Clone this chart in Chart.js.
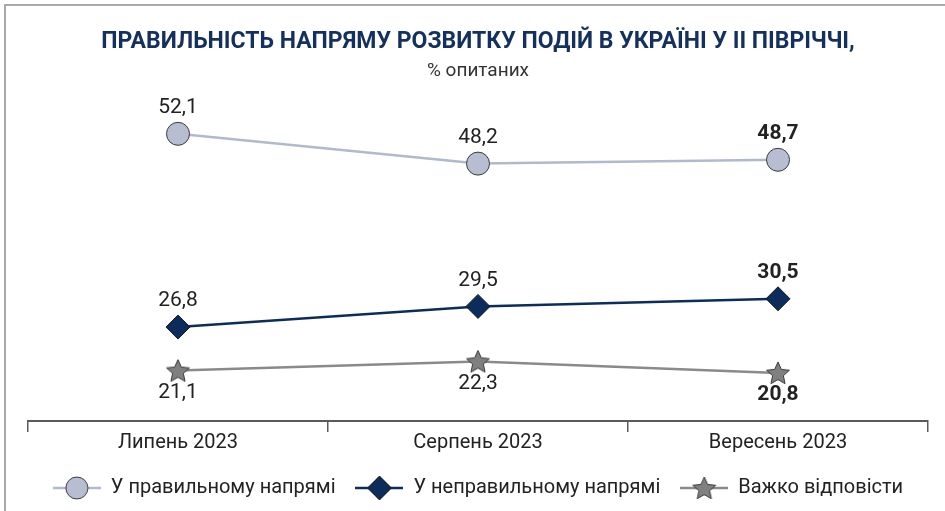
<!DOCTYPE html>
<html>
<head>
<meta charset="utf-8">
<script src="https://cdn.jsdelivr.net/npm/chart.js@4.4.1/dist/chart.umd.min.js"></script>
<style>
  html, body { margin: 0; padding: 0; background: #fff; }
  #wrap { position: relative; width: 945px; height: 511px; overflow: hidden; }
  #frame { position: absolute; left: 4px; top: 4px; right: -4px; bottom: -4px;
           border-top: 2px solid #a9a9a9; border-left: 2px solid #a9a9a9; }
  canvas { position: absolute; left: 0; top: 0; }
</style>
</head>
<body>
<div id="wrap">
  <div id="frame"></div>
  <canvas id="chart" width="945" height="511"></canvas>
</div>
<script>
const months = ["Липень 2023", "Серпень 2023", "Вересень 2023"];
const seriesNames = ["У правильному напрямі", "У неправильному напрямі", "Важко відповісти"];
const rightDirection = [52.1, 48.2, 48.7];
const wrongDirection = [26.8, 29.5, 30.5];
const hardToSay = [21.1, 22.3, 20.8];

const FONT = '"Liberation Sans Narrow", "Roboto", sans-serif';

// filled 5-point star used as a point style
function makeStar(r, fill, stroke) {
    const c = document.createElement("canvas");
    const s = Math.ceil(r * 2 + 4);
    c.width = s; c.height = s;
    const g = c.getContext("2d");
    g.translate(s / 2, s / 2 + 1);
    g.beginPath();
    for (let i = 0; i < 10; i++) {
        const rr = i % 2 === 0 ? r : r * 0.47;
        const a = -Math.PI / 2 + i * Math.PI / 5;
        g.lineTo(Math.cos(a) * rr, Math.sin(a) * rr);
    }
    g.closePath();
    g.fillStyle = fill;
    g.fill();
    g.lineWidth = 1;
    g.strokeStyle = stroke;
    g.stroke();
    return c;
}

// legend icon: short line with the marker in the middle
function makeLegendIcon(lineColor, lineWidth, drawMarker) {
    const c = document.createElement("canvas");
    c.width = 48; c.height = 26;
    const g = c.getContext("2d");
    g.strokeStyle = lineColor;
    g.lineWidth = lineWidth;
    g.beginPath();
    g.moveTo(0, 13);
    g.lineTo(48, 13);
    g.stroke();
    drawMarker(g, 24, 13);
    return c;
}

const starImg = makeStar(12, "#808080", "#3a3a3a");

const legendIcons = [
    makeLegendIcon("#b3b9cc", 2.5, function (g, x, y) {
        g.beginPath();
        g.arc(x, y, 11, 0, Math.PI * 2);
        g.fillStyle = "#b8bed1";
        g.fill();
        g.lineWidth = 1;
        g.strokeStyle = "#3a3a3a";
        g.stroke();
    }),
    makeLegendIcon("#0c2c5c", 2.5, function (g, x, y) {
        g.beginPath();
        g.moveTo(x, y - 12); g.lineTo(x + 12, y); g.lineTo(x, y + 12); g.lineTo(x - 12, y);
        g.closePath();
        g.fillStyle = "#0c2c5c";
        g.fill();
        g.lineWidth = 1;
        g.strokeStyle = "#1a1a1a";
        g.stroke();
    }),
    makeLegendIcon("#8a8a8a", 2.5, function (g, x, y) {
        g.drawImage(starImg, x - starImg.width / 2, y - starImg.height / 2);
    })
];

// value labels drawn at the library's point positions
const valueLabels = {
    id: "valueLabels",
    afterDatasetsDraw(chart) {
        const ctx = chart.ctx;
        ctx.save();
        ctx.textAlign = "center";
        ctx.textBaseline = "middle";
        ctx.fillStyle = "#222";
        chart.data.datasets.forEach(function (ds, i) {
            const meta = chart.getDatasetMeta(i);
            meta.data.forEach(function (pt, j) {
                const last = j === ds.data.length - 1;
                ctx.font = (last ? "bold " : "") + "21px " + FONT;
                const txt = ds.data[j].toFixed(1).replace(".", ",");
                const dy = ds.labelBelow ? 22 : -26;
                ctx.fillText(txt, pt.x, pt.y + dy);
            });
        });
        ctx.restore();
    }
};

const ctx = document.getElementById("chart").getContext("2d");
new Chart(ctx, {
    type: "line",
    data: {
        labels: months,
        datasets: [{
            label: seriesNames[0],
            data: rightDirection,
            borderColor: "#b3b9cc",
            borderWidth: 2.5,
            pointStyle: "circle",
            pointRadius: 11.5,
            pointBackgroundColor: "#b8bed1",
            pointBorderColor: "#3a3a3a",
            pointBorderWidth: 1,
            tension: 0,
            clip: false
        }, {
            label: seriesNames[1],
            data: wrongDirection,
            borderColor: "#0c2c5c",
            borderWidth: 2.5,
            pointStyle: "rectRot",
            pointRadius: 12,
            pointBackgroundColor: "#0c2c5c",
            pointBorderColor: "#1a1a1a",
            pointBorderWidth: 1,
            tension: 0,
            clip: false
        }, {
            label: seriesNames[2],
            data: hardToSay,
            borderColor: "#8a8a8a",
            borderWidth: 2.5,
            pointStyle: starImg,
            pointRadius: 12,
            tension: 0,
            clip: false,
            labelBelow: true
        }]
    },
    options: {
        responsive: false,
        animation: false,
        devicePixelRatio: 1,
        layout: { padding: { left: 28, right: 17, top: 0, bottom: 3 } },
        plugins: {
            title: {
                display: true,
                text: "ПРАВИЛЬНІСТЬ НАПРЯМУ РОЗВИТКУ ПОДІЙ В УКРАЇНІ У ІІ ПІВРІЧЧІ,",
                color: "#13305f",
                font: { family: FONT, size: 23, weight: "bold" },
                padding: { top: 28, bottom: 4 }
            },
            subtitle: {
                display: true,
                text: "% опитаних",
                color: "#333",
                font: { family: FONT, size: 19 },
                padding: { top: 0, bottom: 14 }
            },
            legend: {
                position: "bottom",
                labels: {
                    usePointStyle: true,
                    pointStyleWidth: 48,
                    color: "#222",
                    font: { family: FONT, size: 20 },
                    padding: 20,
                    generateLabels: function (chart) {
                        const items = Chart.defaults.plugins.legend.labels.generateLabels(chart);
                        items.forEach(function (it, i) { it.pointStyle = legendIcons[i]; });
                        return items;
                    }
                }
            },
            tooltip: { enabled: false }
        },
        scales: {
            x: {
                offset: true,
                border: { display: true, color: "#5a5a5a", width: 2 },
                grid: {
                    offset: true,
                    drawOnChartArea: false,
                    drawTicks: true,
                    tickLength: 11,
                    color: "#5a5a5a",
                    lineWidth: 1.5
                },
                ticks: {
                    color: "#222",
                    font: { family: FONT, size: 20 },
                    padding: -1
                },
                afterFit: function (scale) { scale.height += 4; }
            },
            y: {
                display: false,
                min: 14.5,
                max: 57
            }
        }
    },
    plugins: [valueLabels]
});
</script>
</body>
</html>
